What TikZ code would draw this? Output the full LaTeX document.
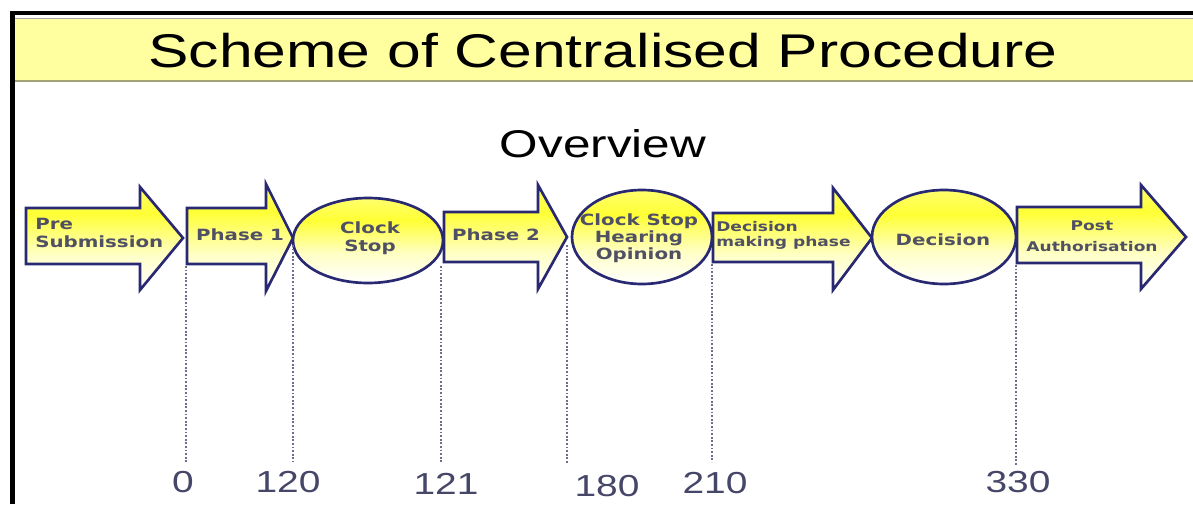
\documentclass[tikz,border=0pt]{standalone}
\usepackage{fontspec}
\setmainfont{Liberation Sans}
\newfontfamily\shapef{DejaVu Sans}
\definecolor{navy}{RGB}{40,40,115}
\definecolor{ylw}{RGB}{255,255,30}
\definecolor{band}{RGB}{255,255,160}
\definecolor{txt}{RGB}{80,80,100}
\definecolor{numc}{RGB}{70,70,105}
\definecolor{dotc}{RGB}{110,110,140}
\pgfdeclareverticalshading{yshade}{100bp}{color(0bp)=(white); color(25bp)=(white); color(42bp)=(ylw!25!white); color(62bp)=(ylw!90!white); color(75bp)=(ylw!65!white); color(100bp)=(ylw!65!white)}
\newcommand{\hs}[1]{\scalebox{1.28}[1]{#1}}
\begin{document}
\begin{tikzpicture}[x=0.75pt,y=-0.75pt,
  stage/.style={draw=navy, line width=2pt, line join=miter, shading=yshade},
  lbl/.style={font=\shapef\bfseries\fontsize{11.6}{13.9}\selectfont, text=txt, inner sep=0pt, anchor=base},
  tick/.style={draw=dotc, line width=1.5pt, dash pattern=on 1.3pt off 1.4pt},
  numl/.style={font=\fontsize{22.8}{27}\selectfont, text=numc, anchor=base, inner sep=0pt}
]
\useasboundingbox (0,0) rectangle (1193,504);
% frame and title band
\fill[band] (14,19) rectangle (1193,82);
\draw[black!35, line width=0.8pt] (14,18.5) -- (1193,18.5);
\draw[black!30!band!70!gray, line width=1.2pt] (14,81) -- (1193,81);
\draw[black, line width=3.4pt, line join=miter] (12.5,504) -- (12.5,13) -- (1193,13);
\node[font=\fontsize{35.5}{40}\selectfont, anchor=base, inner sep=0pt] (title) at (603,67) {\hs{Scheme of Centralised Procedure}};
\node[font=\fontsize{29}{34}\selectfont, anchor=base, inner sep=0pt] (ov) at (603,157) {\hs{Overview}};
% stages
\path[stage] (26,208) -- (140,208) -- (140,187) -- (183,238) -- (140,290) -- (140,264) -- (26,264) -- cycle;
\path[stage] (187,208) -- (266,208) -- (266,184) -- (293,238) -- (266,291) -- (266,264) -- (187,264) -- cycle;
\path[stage] (368,240.5) ellipse [x radius=75, y radius=42.5];
\path[stage] (444,212) -- (538,212) -- (538,185) -- (567,237) -- (538,289) -- (538,262) -- (444,262) -- cycle;
\path[stage] (642,237) ellipse [x radius=70, y radius=47];
\path[stage] (713,213) -- (833,213) -- (833,188) -- (872,238) -- (833,290) -- (833,262) -- (713,262) -- cycle;
\path[stage] (944,237) ellipse [x radius=72, y radius=47];
\path[stage] (1017,207) -- (1141,207) -- (1141,185) -- (1186,237) -- (1141,289) -- (1141,263) -- (1017,263) -- cycle;
% stage texts
\node[lbl, anchor=base west] (pre) at (35,229) {\hs{\begin{tabular}[t]{@{}l@{}}Pre\\Submission\end{tabular}}};
\node[lbl] (ph1) at (240,240) {\hs{Phase 1}};
\node[lbl, font=\shapef\bfseries\fontsize{11.6}{14}\selectfont] (cs1) at (370,233) {\hs{\begin{tabular}[t]{@{}c@{}}Clock\\Stop\end{tabular}}};
\node[lbl] (ph2) at (496,240) {\hs{Phase 2}};
\node[lbl, font=\shapef\bfseries\fontsize{11.6}{12.8}\selectfont] (cs2) at (639,225) {\hs{\begin{tabular}[t]{@{}c@{}}Clock Stop\\Hearing\\Opinion\end{tabular}}};
\node[lbl, anchor=base west, font=\shapef\bfseries\fontsize{10}{11.5}\selectfont] (dmp) at (716,231) {\hs{\begin{tabular}[t]{@{}l@{}}Decision\\making phase\end{tabular}}};
\node[lbl] (dec) at (943,245) {\hs{Decision}};
\node[lbl, font=\shapef\bfseries\fontsize{10}{16}\selectfont] (post) at (1092,230) {\hs{\begin{tabular}[t]{@{}c@{}}Post\\Authorisation\end{tabular}}};
% timeline
\coordinate (d1a) at (186,266); \coordinate (d1b) at (186,462);
\coordinate (d2a) at (293,245); \coordinate (d2b) at (293,462);
\coordinate (d3a) at (441,266); \coordinate (d3b) at (441,463);
\coordinate (d4a) at (567,245); \coordinate (d4b) at (567,463);
\coordinate (d5a) at (712,264); \coordinate (d5b) at (712,462);
\coordinate (d6a) at (1016,265); \coordinate (d6b) at (1016,465);
\foreach \i in {1,...,6} {\draw[tick] (d\i a) -- (d\i b);}
\node[numl] (n0) at (183,492) {\hs{0}};
\node[numl] (n120) at (288,492) {\hs{120}};
\node[numl] (n121) at (446,494) {\hs{121}};
\node[numl] (n180) at (607,496) {\hs{180}};
\node[numl] (n210) at (715,493) {\hs{210}};
\node[numl] (n330) at (1018,492) {\hs{330}};
\end{tikzpicture}
\end{document}
